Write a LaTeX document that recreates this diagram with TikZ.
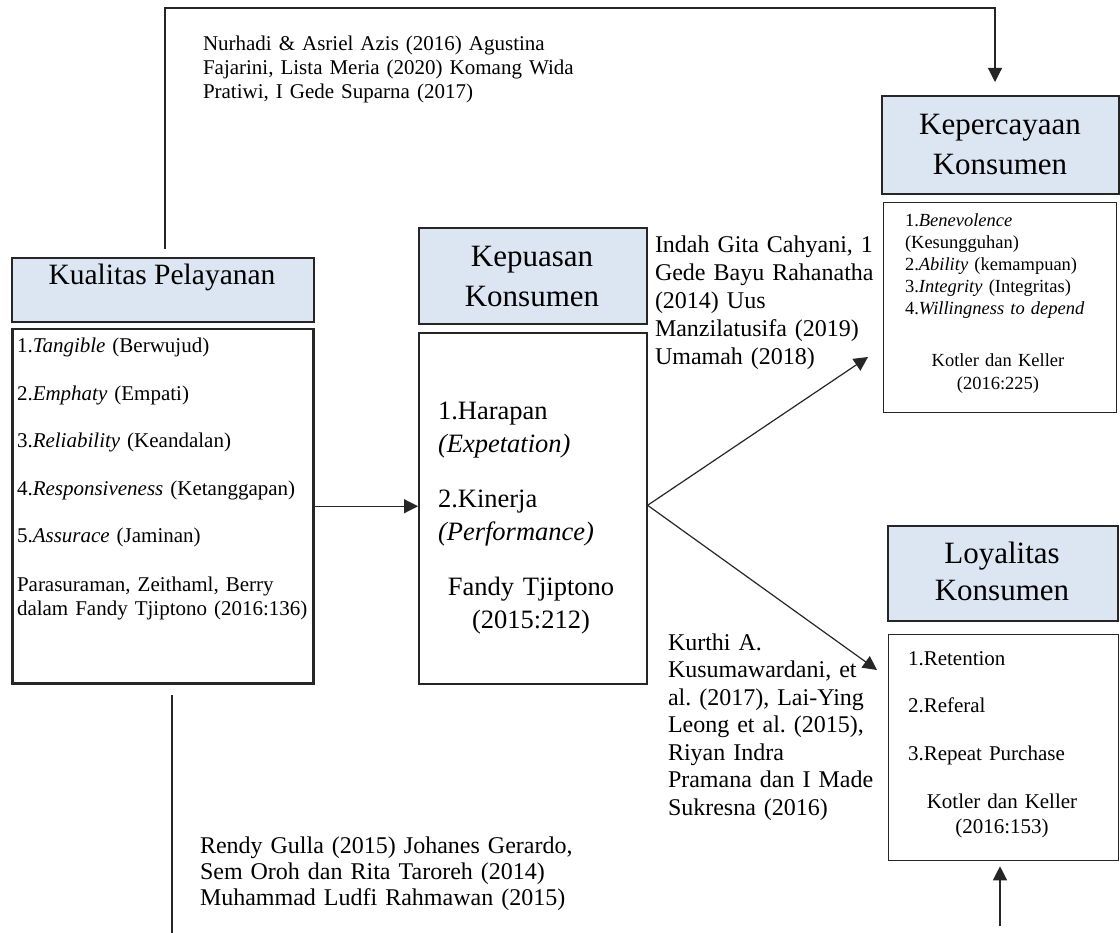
\documentclass[tikz,border=0pt]{standalone}
\usepackage{fontspec}
\setmainfont{Liberation Serif}
\usetikzlibrary{arrows.meta}
\definecolor{hdrblue}{HTML}{DCE6F2}
\definecolor{lineclr}{HTML}{262626}
\newcommand{\fsz}[2]{\fontsize{#1pt}{#2pt}\selectfont}
\begin{document}
\frenchspacing
\begin{tikzpicture}[x=1pt,y=-1pt,
  hdrbox/.style={draw=lineclr, line width=2pt, fill=hdrblue, inner sep=0pt, anchor=north west},
  bodybox/.style={draw=lineclr, line width=1.3pt, inner sep=0pt, anchor=north west},
  txt/.style={inner sep=0pt, outer sep=0pt},
  conn/.style={draw=lineclr, line width=1.2pt},
  arr/.style={conn, -{Triangle[length=14pt,width=14pt]}}]
\useasboundingbox[fill=white] (0,0) rectangle (1120,933);

% boxes
\node[hdrbox, minimum width=302pt, minimum height=64pt] (kpH) at (11,257) {};
\node[bodybox, line width=2.5pt, minimum width=301pt, minimum height=354pt] (kpB) at (11,328) {};
\node[hdrbox, minimum width=228pt, minimum height=96pt] (kuH) at (418,227) {};
\node[bodybox, line width=1.6pt, minimum width=228pt, minimum height=351pt] (kuB) at (418,332) {};
\node[hdrbox, minimum width=237pt, minimum height=98pt] (kcH) at (881,95) {};
\node[bodybox, minimum width=233pt, minimum height=210pt] (kcB) at (883,202) {};
\node[hdrbox, minimum width=230pt, minimum height=95pt] (lyH) at (887,525) {};
\node[bodybox, minimum width=230pt, minimum height=226pt] (lyB) at (888,634) {};

% header texts
\node[txt, anchor=base, font=\fsz{29.5}{34}] (kpT) at (162,285) {Kualitas Pelayanan};
\node[txt, anchor=base, text width=220pt, align=center, font=\fsz{31}{40}] (kuT) at (532,267) {Kepuasan\\Konsumen};
\node[txt, anchor=base, text width=230pt, align=center, font=\fsz{31}{40}] (kcT) at (1000,135) {Kepercayaan\\Konsumen};
\node[txt, anchor=base, text width=225pt, align=center, font=\fsz{31}{37}] (lyT) at (1002,563) {Loyalitas\\Konsumen};

% body texts
\node[txt, anchor=base west, text width=292pt, align=left, font=\fsz{21}{24}] (kpL) at (17,353)
  {1.\textit{Tangible} (Berwujud)\\[23.5pt]
   2.\textit{Emphaty} (Empati)\\[23.5pt]
   3.\textit{Reliability} (Keandalan)\\[23.5pt]
   4.\textit{Responsiveness} (Ketanggapan)\\[23.5pt]
   5.\textit{Assurace} (Jaminan)\\[24.5pt]
   Parasuraman, Zeithaml, Berry\\
   dalam Fandy Tjiptono (2016:136)};

\node[txt, anchor=base west, text width=205pt, align=left, font=\fsz{26.5}{33}] (kuL) at (438,420)
  {1.Harapan\\
   \textit{(Expetation)}\\[22pt]
   2.Kinerja\\
   \textit{(Performance)}};
\node[txt, anchor=base, text width=220pt, align=center, font=\fsz{26.5}{33}] (kuR) at (531,595)
  {Fandy Tjiptono\\(2015:212)};

\node[txt, anchor=base west, text width=210pt, align=left, font=\fsz{18.5}{22}] (kcL) at (905,227)
  {1.\textit{Benevolence}\\
   (Kesungguhan)\\
   2.\textit{Ability} (kemampuan)\\
   3.\textit{Integrity} (Integritas)\\
   4.\textit{Willingness to depend}};
\node[txt, anchor=base, text width=220pt, align=center, font=\fsz{18.5}{23}] (kcR) at (998,367)
  {Kotler dan Keller\\(2016:225)};

\node[txt, anchor=base west, text width=205pt, align=left, font=\fsz{21}{24}] (lyL) at (908,665)
  {1.Retention\\[23pt]
   2.Referal\\[24pt]
   3.Repeat Purchase};
\node[txt, anchor=base, text width=220pt, align=center, font=\fsz{21}{25}] (lyR) at (1002,808)
  {Kotler dan Keller\\(2016:153)};

% reference texts
\node[txt, anchor=base west, text width=400pt, align=left, font=\fsz{21}{24}] (refTop) at (203,51)
  {Nurhadi \& Asriel Azis (2016) Agustina\\
   Fajarini, Lista Meria (2020) Komang Wida\\
   Pratiwi, I Gede Suparna (2017)};
\node[txt, anchor=base west, text width=230pt, align=left, font=\fsz{24}{28}] (refUp) at (655,253)
  {Indah Gita Cahyani, 1\\
   Gede Bayu Rahanatha\\
   (2014) Uus\\
   Manzilatusifa (2019)\\
   Umamah (2018)};
\node[txt, anchor=base west, text width=215pt, align=left, font=\fsz{24}{27.5}] (refLow) at (668,650)
  {Kurthi A.\\
   Kusumawardani, et\\
   al. (2017), Lai-Ying\\
   Leong et al. (2015),\\
   Riyan Indra\\
   Pramana dan I Made\\
   Sukresna (2016)};
\node[txt, anchor=base west, text width=420pt, align=left, font=\fsz{24}{26}] (refBot) at (200,853)
  {Rendy Gulla (2015) Johanes Gerardo,\\
   Sem Oroh dan Rita Taroreh (2014)\\
   Muhammad Ludfi Rahmawan (2015)};

% connectors
\coordinate (tc) at (995,8);
\draw[arr, shorten >=13pt] ([xshift=2pt,yshift=8pt]kpH.north) |- (tc) -- (tc |- kcH.north);
\draw[arr] (kpB.east) -- (kpB.east -| kuB.west);
\coordinate (t1) at (868,357);
\coordinate (t2) at (877,670);
\draw[arr] ([yshift=3pt]kuB.east) -- (t1);
\draw[arr] ([yshift=3pt]kuB.east) -- (t2);
\coordinate (b1) at (1000,926);
\draw[arr, shorten >=5pt] (b1) -- (b1 |- lyB.south);
\coordinate (l1) at (172,695);
\coordinate (l2) at (172,933);
\draw[conn] (l1) -- (l2);
\end{tikzpicture}
\end{document}
